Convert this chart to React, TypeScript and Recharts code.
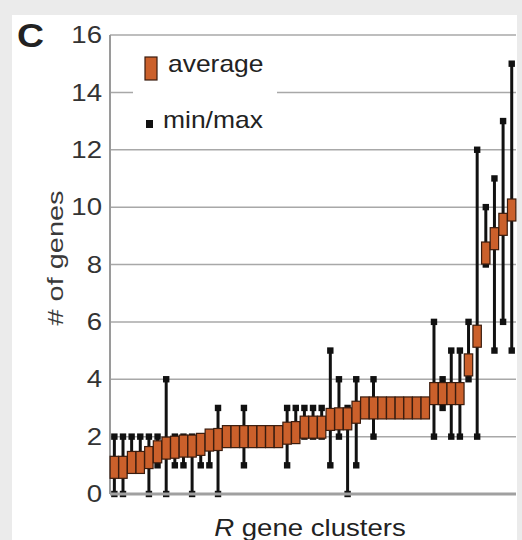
import { ComposedChart, Bar, Line, XAxis, YAxis, CartesianGrid, ReferenceLine } from 'recharts';

// average number of R genes per cluster (sorted ascending)
const averages = [
  0.93, 0.93, 1.1, 1.1, 1.27, 1.47, 1.6, 1.63, 1.67, 1.67, 1.73, 1.88, 1.9,
  2.0, 2.0, 2.0, 2.0, 2.0, 2.0, 2.0, 2.12, 2.14, 2.33, 2.33, 2.33,
  2.6, 2.62, 2.62, 2.85, 3.0, 3.0, 3.0, 3.0, 3.0, 3.0, 3.0, 3.0,
  3.5, 3.5, 3.5, 3.5, 4.5, 5.5, 8.4, 8.9, 9.4, 9.9,
];
const minimums = [
  0, 0, 1, 1, 0, 1, 0, 1, 1, 0, 1, 1, 0,
  2, 2, 1, 2, 2, 2, 2, 1, 2, 2, 2, 2,
  1, 2, 0, 1, 3, 2, 3, 3, 3, 3, 3, 3,
  2, 3, 2, 2, 4, 2, 8, 5, 6, 5,
];
const maximums = [
  2, 2, 2, 2, 2, 2, 4, 2, 2, 2, 2, 2, 3,
  2, 2, 3, 2, 2, 2, 2, 3, 3, 3, 3, 3,
  5, 4, 3, 4, 3, 4, 3, 3, 3, 3, 3, 3,
  6, 4, 5, 5, 6, 12, 10, 11, 13, 15,
];
const yTicks = [0, 2, 4, 6, 8, 10, 12, 14, 16];

const clusters = averages.map((_, i) => `cluster ${i + 1}`);

const data = clusters.map((name, i) => ({
  name,
  avg: averages[i],
  range: [minimums[i], maximums[i]],
}));

const ORANGE = '#cb602b';
const BROWN = '#3a1c0e';
const FONT = '"Liberation Sans", Arial, sans-serif';

function Whisker(props: any) {
  const { x, y, width, height } = props;
  if (x == null || y == null) return null;
  const cx = x + width / 2;
  const h = height || 0;
  return (
    <g>
      <line x1={cx} x2={cx} y1={y} y2={y + h} stroke="#111" strokeWidth={3} />
      <rect x={cx - 3.2} y={y - 3.2} width={6.4} height={6.4} fill="#111" />
      <rect x={cx - 3.2} y={y + h - 3.2} width={6.4} height={6.4} fill="#111" />
    </g>
  );
}

function AvgBox(props: any) {
  const { cx, cy, index } = props;
  if (cx == null || cy == null) return null;
  return (
    <rect key={`avg-${index}`} x={cx - 4.2} y={cy - 11} width={8.4} height={22} fill={ORANGE} stroke={BROWN} strokeWidth={1.2} />
  );
}

function YTick(props: any) {
  const { x, y, payload } = props;
  return (
    <text
      x={0}
      y={0}
      transform={`translate(${x},${y}) scale(1.2,1)`}
      textAnchor="end"
      dominantBaseline="central"
      fontSize={23}
      fontFamily={FONT}
      fill="#333"
    >
      {payload.value}
    </text>
  );
}

export default function App() {
  return (
    <div style={{ position: 'absolute', left: 0, top: 0, width: 522, height: 540, background: '#ebebeb', overflow: 'hidden' }}>
      <div style={{ position: 'absolute', left: 12, top: 15, width: 505, height: 525, background: '#fff' }} />
      <div style={{ position: 'absolute', left: 0, top: 0 }}>
        <ComposedChart width={522} height={540} data={data} margin={{ top: 35, right: 6, bottom: 46, left: 50 }}>
          <CartesianGrid vertical={false} stroke="#a8a8a8" strokeWidth={1.5} />
          <XAxis dataKey="name" hide />
          <YAxis
            width={60}
            domain={[0, 16]}
            ticks={yTicks}
            interval={0}
            tickLine={false}
            tick={<YTick />}
            axisLine={{ stroke: '#9a9a9a', strokeWidth: 2 }}
          />
          <ReferenceLine y={0} stroke="#a0a0a0" strokeWidth={3} />
          <Bar dataKey="range" shape={<Whisker />} isAnimationActive={false} />
          <Line dataKey="avg" stroke="none" dot={<AvgBox />} activeDot={false} isAnimationActive={false} />
        </ComposedChart>
      </div>
      <svg width={522} height={540} style={{ position: 'absolute', left: 0, top: 0, pointerEvents: 'none' }}>
        <text x={0} y={0} transform="translate(17,47) scale(1.1,1)" fontSize={34} fontWeight="bold" fontFamily={FONT} fill="#222">
          C
        </text>
        <rect x={133} y={48} width={144} height={90} fill="#fff" />
        <rect x={145} y={57} width={12} height={23} fill={ORANGE} stroke={BROWN} strokeWidth={1.2} />
        <text x={0} y={0} transform="translate(168,72) scale(1.15,1)" fontSize={23} fontFamily={FONT} fill="#222">
          average
        </text>
        <rect x={146} y={120} width={7} height={8} fill="#111" />
        <text x={0} y={0} transform="translate(163,128) scale(1.15,1)" fontSize={23} fontFamily={FONT} fill="#222">
          min/max
        </text>
        <text
          x={0}
          y={0}
          transform="translate(55,258) rotate(-90)"
          textAnchor="middle"
          dominantBaseline="central"
          fontSize={22}
          textLength={135}
          lengthAdjust="spacingAndGlyphs"
          fontFamily={FONT}
          fill="#3a3a3a"
        >
          # of genes
        </text>
        <text x={0} y={0} transform="translate(310,536) scale(1.2,1)" textAnchor="middle" fontSize={23} fontFamily={FONT} fill="#222">
          <tspan fontStyle="italic">R</tspan> gene clusters
        </text>
      </svg>
    </div>
  );
}
